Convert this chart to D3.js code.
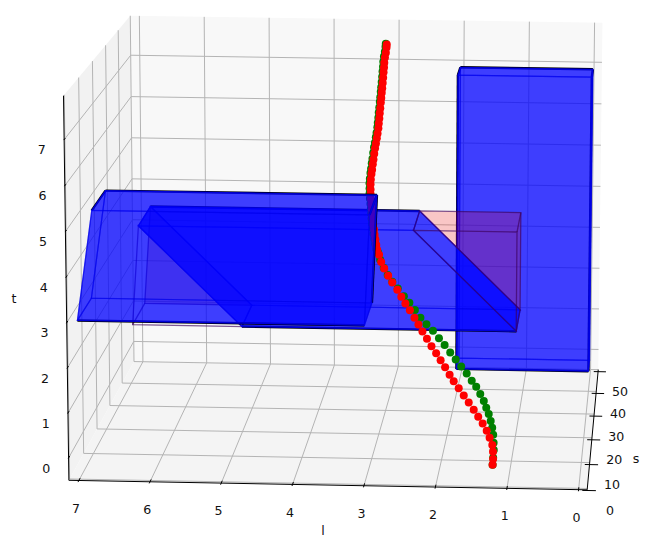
<!DOCTYPE html>
<html><head><meta charset="utf-8">
<script src="https://cdn.jsdelivr.net/npm/d3@7"></script>
<style>html,body{margin:0;background:#fff}text{font-family:"DejaVu Sans";font-size:12.6px;fill:#111}</style>
</head><body><div id="c"></div><script>
// ---- data ----
const lTicks=[0,1,2,3,4,5,6,7];
const sTicks=[0,10,20,30,40,50];
const tTicks=[0,1,2,3,4,5,6,7];
const lDomain=[-0.12,7.14], sDomain=[-0.5,50], tDomain=[-0.5,7.95];
const boxLeftBottomL=[3,7], boxLeftTopL=[2.93,6.78], boxLeftS=[0,10], boxLeftT=[3.03,5.45];
const boxTallL=[0,2.01], boxTallS=[39,44], boxTallT=[0.04,7.05];
const slantTopL=[6.5,2.5], slantBottomL=[5,1], slantS=[20,30], slantT=[1.94,4.22];
const wedgeLeftBottomL=[6.6,5], wedgeLeftTopL=[6.5], wedgeRightL=[2.5,1];
const pathS=[0,.7,1.4,2.1,2.8,3.5,4.2,4.9,5.6,6.3,7,7.7,8.4,9.1,9.8,10.5,11.2,11.9,12.6,13.3,14,14.7,15.4,16.1,16.8,17.5,18.2,18.9,19.6,20.3,21,21.7,22.4,23.1,23.8,24.5,25.2,25.9,26.6,27.3,28,28.7,29.4,30.1,30.8,31.5,32.2,32.9,33.6,34.3,35,35.7,36.4,37.1,37.8,38.5,39.2,39.9,40.6,41.3,42,42.7,43.4,44.1,44.8,45.5,46.2,46.9,47.6,48.3,49,49.7,50];
const redT=[-.01,.08,.2,.31,.43,.55,.67,.78,.9,1.02,1.14,1.26,1.38,1.49,1.62,1.74,1.86,1.98,2.11,2.24,2.36,2.48,2.61,2.73,2.85,2.97,3.1,3.22,3.35,3.47,3.6,3.68,3.76,3.85,3.93,4.02,4.1,4.19,4.27,4.36,4.44,4.53,4.62,4.7,4.79,4.87,4.97,5.04,5.14,5.22,5.33,5.43,5.51,5.61,5.69,5.79,5.87,5.96,6.06,6.15,6.26,6.34,6.44,6.52,6.62,6.72,6.82,6.91,7,7.1,7.19,7.29,7.35];
const redL=[1.206,1.204,1.21,1.225,1.268,1.314,1.376,1.444,1.513,1.589,1.665,1.742,1.819,1.883,1.953,2.023,2.093,2.166,2.237,2.308,2.372,2.436,2.508,2.58,2.645,2.71,2.79,2.856,2.921,2.972,3.01,3.045,3.065,3.085,3.105,3.12,3.14,3.155,3.168,3.18,3.194,3.209,3.221,3.229,3.237,3.24,3.238,3.236,3.233,3.23,3.226,3.221,3.215,3.209,3.205,3.2,3.201,3.2,3.201,3.2,3.199,3.199,3.199,3.199,3.199,3.199,3.2,3.2,3.203,3.2,3.193,3.19,3.189];
const greenT=[-.01,.105,.24,.36,.5,.62,.73,.85,.95,1.06,1.18,1.3,1.4,1.52,1.64,1.76,1.88,2.01,2.13,2.26,2.37,2.48,2.62,2.75,2.86,3,3.12,3.24,3.37,3.52,3.65,3.7,3.78,3.87,3.95,4.04,4.12,4.21,4.29,4.38,4.46,4.55,4.64,4.72,4.81,4.89,4.99,5.06,5.16,5.24,5.35,5.45,5.53,5.63,5.71,5.81,5.89,5.98,6.08,6.17,6.28,6.36,6.46,6.54,6.64,6.74,6.84,6.93,7.02,7.12,7.21,7.31,7.37];
const greenL=[1.206,1.203,1.2,1.207,1.218,1.237,1.263,1.296,1.336,1.376,1.431,1.494,1.563,1.64,1.724,1.808,1.892,1.978,2.065,2.157,2.257,2.35,2.436,2.522,2.608,2.703,2.79,2.863,2.928,2.987,3.025,3.06,3.08,3.1,3.12,3.135,3.155,3.17,3.183,3.195,3.209,3.224,3.236,3.244,3.252,3.255,3.253,3.251,3.248,3.245,3.241,3.236,3.23,3.224,3.22,3.215,3.216,3.215,3.216,3.215,3.214,3.214,3.214,3.214,3.214,3.214,3.215,3.215,3.218,3.215,3.208,3.205,3.204];

// ---- camera calibration: data position -> screen position ----
const calib=[[7.14,-.5,-.5,69,480],[-.12,-.5,-.5,588,490],[-.12,50,-.5,598,370],[7.14,50,-.5,133,362],
[7.14,-.5,7.95,63,96],[7.14,50,7.95,130,16],[-.12,50,7.95,603,23],
[7,50,4,143,178],[3,50,7,398,59],[7,-.5,-.5,79,481],[0,-.5,-.5,578,489]];
const uS=d3.scaleLinear().domain(lDomain).range([0,1]);
const vS=d3.scaleLinear().domain(sDomain).range([0,1]);
const wS=d3.scaleLinear().domain(tDomain).range([0,1]);
function solveCamera(){
  const N=11,A=Array.from({length:N},()=>new Array(N+1).fill(0));
  const add=(r,b)=>{for(let i=0;i<N;i++){for(let j=0;j<N;j++)A[i][j]+=r[i]*r[j];A[i][N]+=r[i]*b;}};
  calib.forEach(c=>{const u=uS(c[0]),v=vS(c[1]),w=wS(c[2]),x=c[3]/600,y=c[4]/600;
    add([u,v,w,1,0,0,0,0,-x*u,-x*v,-x*w],x);add([0,0,0,0,u,v,w,1,-y*u,-y*v,-y*w],y);});
  for(let i=0;i<N;i++){let m=i;for(let k=i+1;k<N;k++)if(Math.abs(A[k][i])>Math.abs(A[m][i]))m=k;
    [A[i],A[m]]=[A[m],A[i]];
    for(let k=0;k<N;k++){if(k===i)continue;const f=A[k][i]/A[i][i];for(let j=i;j<=N;j++)A[k][j]-=f*A[i][j];}}
  return A.map((r,i)=>r[N]/r[i]);
}
const P=solveCamera();
function pr(l,s,t){const u=uS(l),v=vS(s),w=wS(t),d=P[8]*u+P[9]*v+P[10]*w+1;
  return [600*(P[0]*u+P[1]*v+P[2]*w+P[3])/d,600*(P[4]*u+P[5]*v+P[6]*w+P[7])/d];}

const svg=d3.select('#c').append('svg').attr('width',650).attr('height',544).style('display','block');
const poly=pts=>d3.line()(pts)+'Z';
const [l0,l1]=lDomain,[s0,s1]=sDomain,[t0,t1]=tDomain;
const gP=svg.append('g');
// panes
[[[[l1,s0,t0],[l1,s1,t0],[l1,s1,t1],[l1,s0,t1]],'#f2f2f2'],
 [[[l0,s1,t0],[l1,s1,t0],[l1,s1,t1],[l0,s1,t1]],'#f8f8f8'],
 [[[l0,s0,t0],[l1,s0,t0],[l1,s1,t0],[l0,s1,t0]],'#f4f4f4']].forEach(([q,c])=>{
  gP.append('path').attr('d',poly(q.map(p=>pr(...p)))).attr('fill',c);});
// grid
const gl=(a,b)=>gP.append('path').attr('d',d3.line()([pr(...a),pr(...b)])).attr('stroke','#b4b4b4').attr('stroke-width',1).attr('fill','none');
lTicks.forEach(l=>{gl([l,s0,t0],[l,s1,t0]);gl([l,s1,t0],[l,s1,t1]);});
sTicks.forEach(s=>{gl([l0,s,t0],[l1,s,t0]);gl([l1,s,t0],[l1,s,t1]);});
tTicks.forEach(t=>{gl([l0,s1,t],[l1,s1,t]);gl([l1,s1,t],[l1,s0,t]);});

// axes
const ax=(a,b,w)=>svg.append('path').attr('d',d3.line()([a,b])).attr('stroke','#000').attr('stroke-width',w||1).attr('fill','none');
ax(pr(l1,s0,t0),pr(l1,s0,t1));ax(pr(l1,s0,t0),pr(l0,s0,t0));ax(pr(l0,s0,t0),pr(l0,s1,t0));
const lab=(p,s)=>svg.append('text').attr('x',p[0]).attr('y',p[1]).attr('dy','.36em').attr('text-anchor','middle').text(s);
lTicks.forEach(l=>{const a=pr(l,s0-.6,t0),b=pr(l,s0+.9,t0);ax(a,b);lab([a[0]-2,a[1]+26],l);});
tTicks.forEach(t=>{const a=pr(l1,s0-.2,t),b=pr(l1,s0+.8,t);ax(a,b);lab([a[0]-22,a[1]+9.5],t);});
sTicks.forEach(s=>{const a=pr(l0-.12,s,t0),b=pr(l0+.07,s,t0);ax([a[0],a[1]+2],[b[0],b[1]+2]);lab([a[0]+14,a[1]+22],s);});
lab([323,530],'l');lab([636,458],'s');lab([14,298],'t');

// solids
const faces=[[0,1,2,3],[4,5,6,7],[0,1,5,4],[3,2,6,7],[0,3,7,4],[1,2,6,5]];
function solid(g,v,blackEdges){ // v = 8 screen points
  const black=g.append('g'),fill=g.append('g');
  blackEdges.forEach(e=>black.append('path').attr('d',d3.line()(e.map(i=>v[i]))).attr('fill','none').attr('stroke','#000').attr('stroke-width',2.4));
  faces.forEach(f=>fill.append('path').attr('d',poly(f.map(i=>v[i]))).attr('fill','rgba(0,0,255,.5)').attr('stroke','rgba(0,0,235,.55)').attr('stroke-width',1.2));
}
const boxPts=(L,S,T)=>[[L[1],S[0],T[0]],[L[0],S[0],T[0]],[L[0],S[0],T[1]],[L[1],S[0],T[1]],
                       [L[1],S[1],T[0]],[L[0],S[1],T[0]],[L[0],S[1],T[1]],[L[1],S[1],T[1]]].map(p=>pr(...p));
function wedge(g,backPts,frontPts){
  const c='rgba(60,0,90,.65)';
  g.append('path').attr('d',poly(backPts)).attr('fill','rgba(255,0,0,.2)').attr('stroke',c).attr('stroke-width',1.3);
  g.append('path').attr('d',poly(frontPts)).attr('fill','none').attr('stroke',c).attr('stroke-width',1.3);
  backPts.forEach((p,i)=>g.append('path').attr('d',d3.line()([p,frontPts[i]])).attr('stroke',c).attr('stroke-width',1.3));
}
const triL=s=>[pr(wedgeLeftBottomL[0],s,slantT[0]),pr(wedgeLeftTopL[0],s,slantT[1]),pr(wedgeLeftBottomL[1],s,slantT[0])];
const triR=s=>[pr(wedgeRightL[0],s,slantT[1]),pr(wedgeRightL[1],s,slantT[1]),pr(wedgeRightL[1],s,slantT[0])];
const sheared=(B,U,S,T)=>[pr(B[0],S[0],T[0]),pr(B[1],S[0],T[0]),pr(U[1],S[0],T[1]),pr(U[0],S[0],T[1]),
                          pr(B[0],S[1],T[0]),pr(B[1],S[1],T[0]),pr(U[1],S[1],T[1]),pr(U[0],S[1],T[1])];

solid(svg.append('g'),boxPts(boxTallL,boxTallS,boxTallT),[[0,1],[1,2],[0,3],[3,7],[7,6],[6,2]]);
wedge(svg.append('g'),triL(slantS[1]),triL(slantS[0]));
solid(svg.append('g'),sheared(slantBottomL,slantTopL,slantS,slantT),[[0,1],[7,6]]);
wedge(svg.append('g'),triR(slantS[1]),triR(slantS[0]));

// trajectories
const dots=(L,T,c)=>svg.append('g').selectAll('circle').data(L).join('circle')
  .attr('cx',(d,i)=>pr(d,pathS[i],T[i])[0]).attr('cy',(d,i)=>pr(d,pathS[i],T[i])[1]).attr('r',4).attr('fill',c);
dots(greenL,greenT,'#008000');
dots(redL,redT,'#ff0000');

solid(svg.append('g'),sheared(boxLeftBottomL,boxLeftTopL,boxLeftS,boxLeftT),[[4,7],[7,6],[3,7],[2,6],[0,1]]);
</script></body></html>
